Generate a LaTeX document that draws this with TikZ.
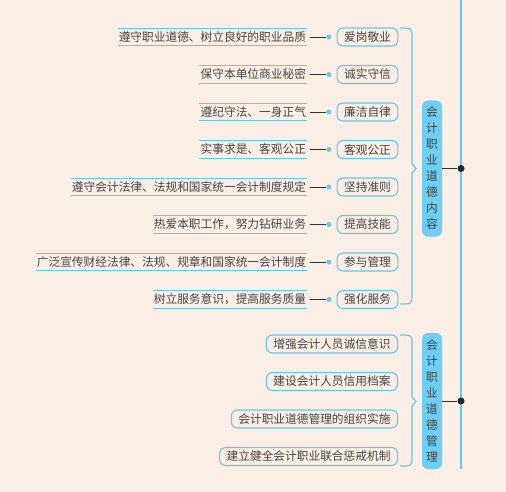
\documentclass[tikz,border=0pt]{standalone}
\usepackage{fontspec}
\usepackage{xcolor}
\usepackage{tikz}
\usetikzlibrary{positioning,calc}
\newfontfamily\cjk{Noto Sans CJK SC}
\definecolor{bgpeach}{HTML}{FBEEE4}
\definecolor{skyblue}{HTML}{62C9F3}
\definecolor{topicblue}{HTML}{6ECFF6}
\definecolor{txtgray}{HTML}{444444}

\begin{document}
\begin{tikzpicture}[
        x=1pt, y=-1pt,
        font=\cjk\fontsize{11.7}{14}\selectfont,
        item/.style={rectangle, draw=skyblue, fill=bgpeach, text=txtgray, rounded corners=6pt, inner xsep=7pt, inner ysep=0pt, minimum height=18pt, line width=1.1pt},
        topic/.style={rectangle, fill=topicblue, text=txtgray, rounded corners=6pt, text width=12pt, align=center, inner xsep=4pt, minimum height=136pt, font=\cjk\fontsize{11.7}{16}\selectfont},
        desc/.style={text=txtgray, inner xsep=1pt, inner ysep=0pt, minimum height=17pt, append after command={(\tikzlastnode.north west) edge [rule] (\tikzlastnode.north east) (\tikzlastnode.south west) edge [rule] (\tikzlastnode.south east)}},
        rule/.style={draw=skyblue, line width=0.9pt},
        bullet/.style={circle, fill=skyblue, inner sep=0pt, minimum size=5pt},
        hub/.style={circle, fill=black!85, inner sep=0pt, minimum size=7pt},
        line/.style={draw=black!80, line width=0.8pt},
        spine/.style={draw=skyblue, line width=1.2pt},
        brace/.style={draw=skyblue, line width=1.2pt}
    ]

    % Background
    \useasboundingbox (0,0) rectangle (506,492);
    \fill [bgpeach] (0,0) rectangle (506,492);

    % Main spine
    \coordinate (spinetop) at (461,0);
    \coordinate (spineend) at (461,469);
    \path [spine] (spinetop) -- (spineend);

    % Content group
    \node [topic] (neirong) at (432,168.5) {会\\计\\职\\业\\道\\德\\内\\容};
    \node [hub] (neironghub) at (461,168.5) {};
    \path [line] (neirong) -- (neironghub);

    \node [item] (aigang) at (367.5,37) {爱岗敬业};
    \node [item, below=18.4pt of aigang] (chengshi) {诚实守信};
    \node [item, below=18.4pt of chengshi] (lianjie) {廉洁自律};
    \node [item, below=18.4pt of lianjie] (keguan) {客观公正};
    \node [item, below=18.4pt of keguan] (jianchi) {坚持准则};
    \node [item, below=18.4pt of jianchi] (tigao) {提高技能};
    \node [item, below=18.4pt of tigao] (canyu) {参与管理};
    \node [item, below=18.4pt of canyu] (qianghua) {强化服务};

    \node [bullet, left=5pt of aigang] (aigangdot) {};
    \node [bullet, left=5pt of chengshi] (chengshidot) {};
    \node [bullet, left=5pt of lianjie] (lianjiedot) {};
    \node [bullet, left=5pt of keguan] (keguandot) {};
    \node [bullet, left=5pt of jianchi] (jianchidot) {};
    \node [bullet, left=5pt of tigao] (tigaodot) {};
    \node [bullet, left=5pt of canyu] (canyudot) {};
    \node [bullet, left=5pt of qianghua] (qianghuadot) {};

    \node [desc, left=19pt of aigangdot] (aigangtxt) {遵守职业道德、树立良好的职业品质};
    \node [desc, left=19pt of chengshidot] (chengshitxt) {保守本单位商业秘密};
    \node [desc, left=19pt of lianjiedot] (lianjietxt) {遵纪守法、一身正气};
    \node [desc, left=19pt of keguandot] (keguantxt) {实事求是、客观公正};
    \node [desc, left=19pt of jianchidot] (jianchitxt) {遵守会计法律、法规和国家统一会计制度规定};
    \node [desc, left=19pt of tigaodot] (tigaotxt) {热爱本职工作，努力钻研业务};
    \node [desc, left=19pt of canyudot] (canyutxt) {广泛宣传财经法律、法规、规章和国家统一会计制度};
    \node [desc, left=19pt of qianghuadot] (qianghuatxt) {树立服务意识，提高服务质量};

    \path [line, shorten <=3pt] (aigangtxt) -- (aigangdot);
    \path [line, shorten <=3pt] (chengshitxt) -- (chengshidot);
    \path [line, shorten <=3pt] (lianjietxt) -- (lianjiedot);
    \path [line, shorten <=3pt] (keguantxt) -- (keguandot);
    \path [line, shorten <=3pt] (jianchitxt) -- (jianchidot);
    \path [line, shorten <=3pt] (tigaotxt) -- (tigaodot);
    \path [line, shorten <=3pt] (canyutxt) -- (canyudot);
    \path [line, shorten <=3pt] (qianghuatxt) -- (qianghuadot);

    \path [brace] (400,28) .. controls (412,28) .. (412,38) -- (412,164) -- (416,168.5) -- (412,173) -- (412,294) .. controls (412,304) .. (400,304);

    % Management group
    \node [topic] (guanli) at (432,401) {会\\计\\职\\业\\道\\德\\管\\理};
    \node [hub] (guanlihub) at (461,401) {};
    \path [line] (guanli) -- (guanlihub);

    \node [item, anchor=east] (chengxin) at (398,344) {增强会计人员诚信意识};
    \node [item, below=18.4pt of chengxin.south east, anchor=north east] (dangan) {建设会计人员信用档案};
    \node [item, below=18.4pt of dangan.south east, anchor=north east] (zuzhi) {会计职业道德管理的组织实施};
    \node [item, below=18.4pt of zuzhi.south east, anchor=north east] (chengjie) {建立健全会计职业联合惩戒机制};

    \path [brace] (400,335) .. controls (412,335) .. (412,345) -- (412,397) -- (416,401.5) -- (412,406) -- (412,456) .. controls (412,466) .. (400,466);

\end{tikzpicture}
\end{document}
